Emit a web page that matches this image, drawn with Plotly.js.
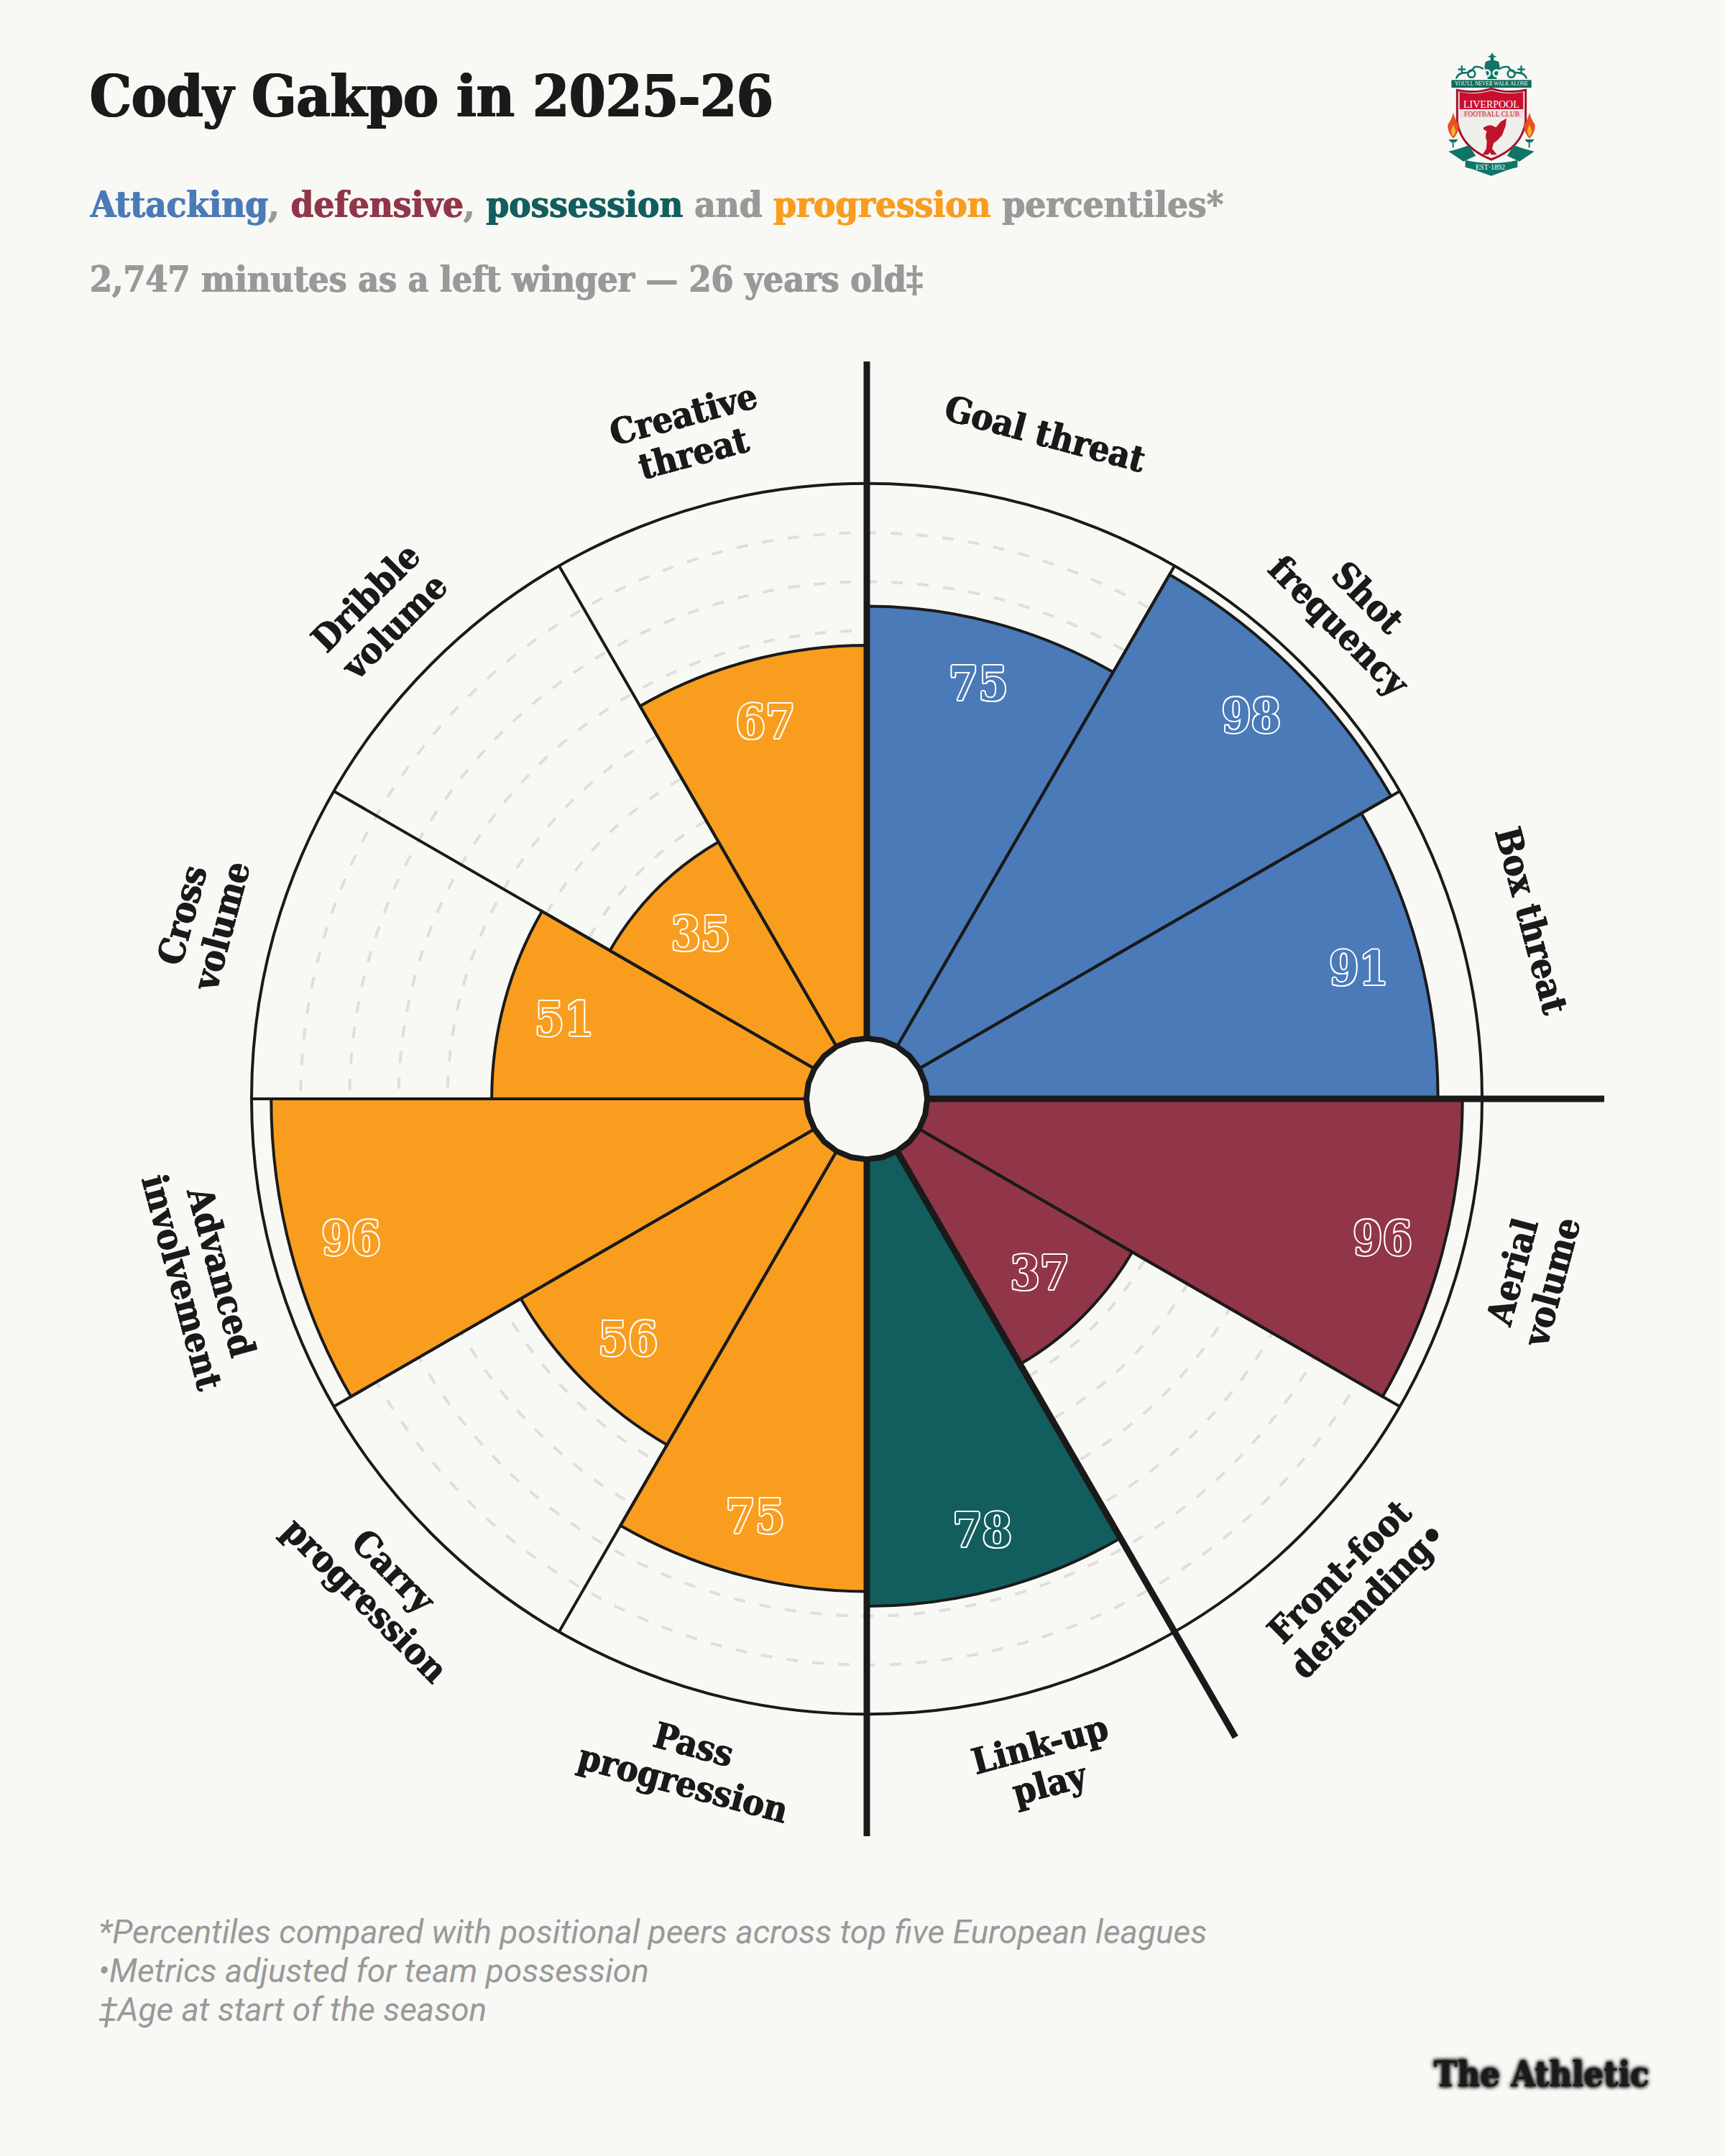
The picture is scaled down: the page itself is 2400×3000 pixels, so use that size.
<!DOCTYPE html>
<html>
<head>
<meta charset="utf-8">
<script src="https://cdn.plot.ly/plotly-3.0.1.min.js"></script>
<style>
  html, body { margin: 0; padding: 0; background: #f8f8f5; }
</style>
</head>
<body>
<div id="chart" style="width:2400px;height:3000px"></div>
<script>
// metrics clockwise from 12 o'clock
var metrics = ['Goal threat', 'Shot<br>frequency', 'Box threat', 'Aerial<br>volume', 'Front-foot<br>defending•', 'Link-up<br>play',
    'Pass<br>progression', 'Carry<br>progression', 'Advanced<br>involvement', 'Cross<br>volume', 'Dribble<br>volume', 'Creative<br>threat']
var percentiles = [75, 98, 91, 96, 37, 78, 75, 56, 96, 51, 35, 67]
var groups = ['att', 'att', 'att', 'def', 'def', 'pos', 'prog', 'prog', 'prog', 'prog', 'prog', 'prog']
var metric_angles = [15, 45, 75, 105, 135, 165, 195, 225, 255, 285, 315, 345]
var label_angles = [15, 45, 75, -75, -45, -15, 15, 45, 75, -75, -45, -15]
var group_colors = {att: '#4a7ab8', def: '#913648', pos: '#125e5e', prog: '#f99d1f'}
var ring_values = [10, 20, 30, 40, 50, 60, 70, 80, 90]
var spoke_angles = [0, 30, 60, 90, 120, 150, 180, 210, 240, 270, 300, 330]
var divider_angles = [0, 90, 150, 180]
var hub_angles = [0, 15, 30, 45, 60, 75, 90, 105, 120, 135, 150, 165, 180, 195, 210, 225, 240, 255, 270, 285, 300, 315, 330, 345, 360]

var ink = '#1a1a1a', grey = '#999999', paper = '#f8f8f5'
var slab = "'DejaVu Serif Condensed','DejaVu Serif',serif"

// faux extra weight, svg text has no currentColor to lean on
function heavier(color, w) { return w + 'px 0 ' + color + ', -' + w + 'px 0 ' + color }

// polar geometry in page pixels
var W = 2400, H = 3000
var cx = 1206, cy = 1529, outer = 856, hub = 84, reach = 1026
var r_min = -13.2, r_max = 100, divider_end = 125.1, r_centre = -25.55
var label_r = 958, label_line = 56, label_inset = 12.6, value_drop = 8

function px(x) { return x / W }
function py(y) { return 1 - y / H }

var colors = groups.map(function (g) { return group_colors[g] })

var data = [{
    type: 'barpolar',
    subplot: 'polar',
    theta: metric_angles,
    r: percentiles.map(function (v) { return v - r_min }),
    base: r_min,
    width: 30,
    marker: {color: colors, line: {color: ink, width: 4}},
    hoverinfo: 'skip',
}]

// the spokes and the long dividers run past the outer ring, so they live on a wider polar with the same scale
function add_spoke(a, end, w) {
    data.push({
        type: 'scatterpolar',
        subplot: 'polar2',
        mode: 'lines',
        theta: [a, a],
        r: [r_min, end],
        line: {color: ink, width: w},
        hoverinfo: 'skip',
    })
}
spoke_angles.forEach(function (a) { add_spoke(a, r_max, 4) })
divider_angles.forEach(function (a) { add_spoke(a, divider_end, 9) })

data.push({
    type: 'scatterpolar',
    subplot: 'polar2',
    mode: 'lines',
    theta: hub_angles,
    r: hub_angles.map(function () { return r_min }),
    line: {color: ink, width: 8},
    hoverinfo: 'skip',
})

data.push({
    type: 'scatterpolar',
    subplot: 'polar3',
    mode: 'text',
    theta: metric_angles,
    r: percentiles.map(function (v) { return v - label_inset }),
    text: percentiles.map(String),
    textposition: 'middle center',
    textfont: {
        family: slab,
        size: 66,
        weight: 700,
        color: colors,
        shadow: '2px 0 #fff, -2px 0 #fff, 0 2px #fff, 0 -2px #fff, 1.5px 1.5px #fff, -1.5px -1.5px #fff, 1.5px -1.5px #fff, -1.5px 1.5px #fff',
    },
    hoverinfo: 'skip',
})

var annotations = []

function add_text(x, y, text, font) {
    annotations.push({
        xref: 'paper', yref: 'paper',
        x: px(x), y: py(y),
        text: text,
        showarrow: false,
        xanchor: 'left', yanchor: 'middle',
        align: 'left',
        font: font,
    })
}

function span(text, color) {
    return '<span style="color:' + color + ';text-shadow:' + heavier(color, 0.7) + '">' + text + '</span>'
}

add_text(123, 134, 'Cody Gakpo in 2025-26', {family: slab, size: 81, color: ink, weight: 700, shadow: heavier(ink, 1.2)})
add_text(123, 285,
    span('Attacking', group_colors.att) + span(', ', grey) + span('defensive', group_colors.def) + span(', ', grey) +
    span('possession', group_colors.pos) + span(' and ', grey) + span('progression', group_colors.prog) + span(' percentiles*', grey),
    {family: slab, size: 50.5, color: grey, weight: 700})
add_text(123, 389, '2,747 minutes as a left winger — 26 years old‡', {family: slab, size: 49.5, color: grey, weight: 700, shadow: heavier(grey, 0.7)})

var foot = {family: 'Roboto', size: 46, color: grey, style: 'italic'}
add_text(135, 2688, '*Percentiles compared with positional peers across top five European leagues', foot)
add_text(135, 2742, '•Metrics adjusted for team possession', foot)
add_text(135, 2796, '‡Age at start of the season', foot)

add_text(1993, 2885, 'The Athletic', {family: slab, size: 48.5, color: ink, weight: 700, shadow: '0 0 6px #1a1a1a, 0 0 6px #1a1a1a, 0 0 4px #1a1a1a'})

metrics.forEach(function (m, i) {
    var t = metric_angles[i] * Math.PI / 180
    var rot = label_angles[i] * Math.PI / 180
    var lines = m.split('<br>')
    lines.forEach(function (line, j) {
        var off = (j - (lines.length - 1) / 2) * label_line
        annotations.push({
            xref: 'paper', yref: 'paper',
            x: px(cx + label_r * Math.sin(t) - off * Math.sin(rot)),
            y: py(cy - label_r * Math.cos(t) + off * Math.cos(rot)),
            text: line,
            showarrow: false,
            textangle: label_angles[i],
            xanchor: 'center', yanchor: 'middle',
            font: {family: slab, size: 50, color: ink, weight: 700, shadow: heavier(ink, 0.7)},
        })
    })
})

// crest lettering sits on the drawn badge
var crest_texts = [
    ["YOU'LL NEVER WALK ALONE", 2075, 116.5, 7.4, '#ffffff'],
    ['LIVERPOOL', 2075, 145, 14, '#ffffff'],
    ['FOOTBALL CLUB', 2075, 159, 9.5, '#b8142c'],
    ['EST·1892', 2073, 232, 10, '#ffffff'],
]
crest_texts.forEach(function (c) {
    annotations.push({
        xref: 'paper', yref: 'paper', x: px(c[1]), y: py(c[2]), text: c[0], showarrow: false,
        xanchor: 'center', yanchor: 'middle',
        font: {family: 'Liberation Serif', size: c[3], color: c[4]},
    })
})

var crest_svg = '<svg xmlns="http://www.w3.org/2000/svg" viewBox="0 0 510 570" width="510" height="570">' +
    // gates
    '<g fill="#0f7566">' +
    '<path d="M258 40l7 12 12 4-12 4v12h-14V60l-12-4 12-4z"/>' +
    '<path d="M230 78q28-14 56 0l4 22-14 50h-36l-14-50z"/>' +
    '<path d="M128 94h7v12h12v7h-12v12h-7v-12h-12v-7h12zM376 94h7v12h12v7h-12v12h-7v-12h-12v-7h12z"/>' +
    '<rect x="88" y="154" width="334" height="32" fill="#0e6a5a"/>' +
    '</g>' +
    '<g fill="none" stroke="#0f7566" stroke-width="8">' +
    '<path d="M108 148q8-24 36-24q26 0 40-24q18-6 38 8"/>' +
    '<path d="M402 148q-8-24-36-24q-26 0-40-24q-18-6-38 8"/>' +
    '<circle cx="172" cy="128" r="15"/><circle cx="338" cy="128" r="15"/>' +
    '<circle cx="236" cy="126" r="13" stroke="#eef5f2"/><circle cx="276" cy="126" r="13" stroke="#eef5f2"/>' +
    '</g>' +
    // shield
    '<path d="M112 196q72 16 143-6q72 22 143 6v130q-14 110-143 160q-129-50-143-160z" fill="#efefec" stroke="#a5122a" stroke-width="9"/>' +
    '<path d="M122 204q66 14 133-6q66 20 133 6v72H122z" fill="#c8102e"/>' +
    '<path d="M122 280h266v32H122z" fill="#f3dcdc"/>' +
    // bird
    '<path d="M222 352l18-8q12-4 22 2l12 6 20-24 24-14-4 32-14 38-20 22-16 12-6 22 20 26h-24l-6-10-6 10h-24l16-26 2-32q-10-20 0-40l-14-8z" fill="#c0142a"/>' +
    // flames and ribbon
    '<path d="M96 290q-8 30-22 48-6 30 22 60 28-30 22-60-14-18-22-48zM414 290q-8 30-22 48-6 30 22 60 28-30 22-60-14-18-22-48z" fill="#e8501f"/>' +
    '<path d="M96 340q-6 16-10 26 2 16 10 24 8-8 10-24-4-10-10-26zM414 340q-6 16-10 26 2 16 10 24 8-8 10-24-4-10-10-26z" fill="#f9b233"/>' +
    '<path d="M76 402h40l-10 12h-8v22h-6v-22h-6zM394 402h40l-10 12h-8v22h-6v-22h-6z" fill="#0f7566"/>' +
    '<path d="M76 452q40-8 84-26l30 44-52 24zM434 452q-40-8-84-26l-30 44 52 24z" fill="#0f7566"/>' +
    '<path d="M146 488q110 26 218 0v30q-40 8-70 22l-40 14-40-14q-30-14-68-22z" fill="#0f7566"/>' +
    '</svg>'

// hidden polar axes shared by the overlay subplots
var hidden_angular = {direction: 'clockwise', rotation: 90, thetaunit: 'degrees', visible: false}

var layout = {
    width: W,
    height: H,
    margin: {t: 0, l: 0, r: 0, b: 0, pad: 0},
    paper_bgcolor: paper,
    plot_bgcolor: paper,
    showlegend: false,
    polar: {
        domain: {x: [px(cx - outer), px(cx + outer)], y: [py(cy + outer), py(cy - outer)]},
        bgcolor: 'rgba(0,0,0,0)',
        hole: hub / outer,
        radialaxis: {
            range: [r_min, r_max],
            tickmode: 'array',
            tickvals: ring_values,
            showticklabels: false,
            ticks: '',
            showline: false,
            gridcolor: '#dededa',
            gridwidth: 4,
            griddash: '16px,20px',
        },
        angularaxis: {
            direction: 'clockwise',
            rotation: 90,
            thetaunit: 'degrees',
            showgrid: false,
            showticklabels: false,
            ticks: '',
            showline: true,
            linecolor: ink,
            linewidth: 4,
        },
    },
    polar2: {
        domain: {x: [px(cx - reach), px(cx + reach)], y: [py(cy + reach), py(cy - reach)]},
        bgcolor: 'rgba(0,0,0,0)',
        radialaxis: {range: [r_centre, divider_end], visible: false},
        angularaxis: hidden_angular,
    },
    polar3: {
        domain: {x: [px(cx - outer), px(cx + outer)], y: [py(cy + value_drop + outer), py(cy + value_drop - outer)]},
        bgcolor: 'rgba(0,0,0,0)',
        hole: hub / outer,
        radialaxis: {range: [r_min, r_max], visible: false},
        angularaxis: hidden_angular,
    },
    annotations: annotations,
    images: [{
        source: 'data:image/svg+xml;charset=utf-8,' + encodeURIComponent(crest_svg),
        xref: 'paper', yref: 'paper',
        x: px(1990), y: py(60),
        sizex: 170 / W, sizey: 190 / H,
        xanchor: 'left', yanchor: 'top',
        sizing: 'stretch',
        layer: 'above',
    }],
}

Plotly.newPlot('chart', data, layout, {displayModeBar: false, staticPlot: true})
</script>
</body>
</html>
